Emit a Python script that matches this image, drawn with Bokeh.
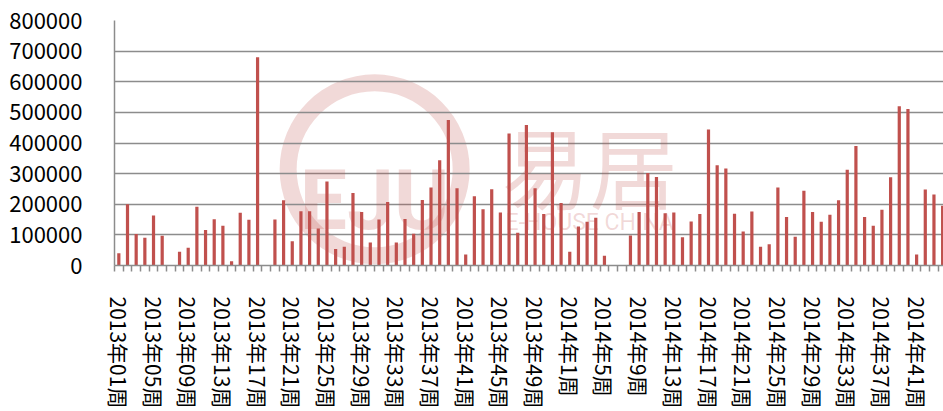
from bokeh.plotting import figure
from bokeh.models import Range1d, FixedTicker, NumeralTickFormatter, Label
from bokeh.embed import file_html
from bokeh.resources import INLINE

# ---- data (weekly values, 2013年01周 .. 2014年44周) ----
values_2013 = [40000, 200000, 103000, 91000, 163000, 97000, 0, 45000, 58000, 192000,
               116000, 151000, 130000, 14000, 172000, 149000, 680000, 0, 150000, 213000,
               79000, 177000, 177000, 121000, 274000, 54000, 61000, 237000, 175000, 75000,
               150000, 207000, 75000, 152000, 104000, 214000, 255000, 344000, 475000, 252000,
               36000, 226000, 184000, 249000, 173000, 431000, 107000, 459000, 252000, 168000,
               435000, 204000]
values_2014 = [45000, 127000, 143000, 156000, 32000, 0, 0, 98000, 175000, 302000,
               289000, 171000, 173000, 92000, 144000, 168000, 444000, 327000, 317000, 169000,
               111000, 176000, 61000, 69000, 255000, 158000, 94000, 244000, 175000, 143000,
               166000, 213000, 313000, 390000, 158000, 130000, 182000, 288000, 520000, 511000,
               36000, 248000, 232000, 195000]
tick_labels = ["2013年01周", "2013年05周", "2013年09周", "2013年13周", "2013年17周",
               "2013年21周", "2013年25周", "2013年29周", "2013年33周", "2013年37周",
               "2013年41周", "2013年45周", "2013年49周", "2014年1周", "2014年5周",
               "2014年9周", "2014年13周", "2014年17周", "2014年21周", "2014年25周",
               "2014年29周", "2014年33周", "2014年37周", "2014年41周"]
y_ticks = [0, 100000, 200000, 300000, 400000, 500000, 600000, 700000, 800000]

values = values_2013 + values_2014
idx = list(range(len(values)))
tick_pos = idx[::4][:len(tick_labels)]

FONT = "Noto Sans CJK SC"
GRID = "#8c8c8c"
BAR = "#c0504d"

p = figure(width=943, height=411, output_backend="svg", toolbar_location=None,
           x_range=Range1d(-0.5, 95.1), y_range=Range1d(0, 800000),
           min_border_left=114, min_border_top=20, min_border_right=0,
           min_border_bottom=144)
p.outline_line_color = None
p.background_fill_color = "white"
p.border_fill_color = "white"

# ---- faint watermark (behind bars) ----
wm = dict(text_color=BAR, text_alpha=0.22, level="underlay")
p.annulus(x=[29.5], y=[314000], inner_radius=78, outer_radius=95,
          inner_radius_units="screen", outer_radius_units="screen",
          fill_color=BAR, fill_alpha=0.22, line_color=None, level="underlay")
p.add_layout(Label(x=29.5, y=211000, text="EJU", text_align="center",
                   text_baseline="alphabetic", text_font="Roboto",
                   text_font_style="bold", text_font_size="84px", **wm))
p.add_layout(Label(x=54.3, y=333000, text="易居", text_align="center",
                   text_baseline="middle", text_font=FONT,
                   text_font_size="88px", **wm))
p.add_layout(Label(x=54.3, y=139000, text="E-HOUSE CHINA", text_align="center",
                   text_baseline="middle", text_font="Roboto",
                   text_font_size="23px", **wm))

# ---- bars ----
p.vbar(x=idx, top=values, width=0.37, fill_color=BAR, line_color=None)

# ---- axes ----
xa = p.xaxis[0]
xa.ticker = FixedTicker(ticks=tick_pos,
                        minor_ticks=[i - 0.5 for i in range(len(values) + 1)])
xa.major_label_overrides = {pos: lab for pos, lab in zip(tick_pos, tick_labels)}
xa.major_label_orientation = "vertical"
xa.major_label_text_font = FONT
xa.major_label_text_font_size = "21px"
xa.major_label_text_color = "black"
xa.major_label_standoff = 25
xa.major_tick_line_color = None
xa.major_tick_out = 0
xa.major_tick_in = 0
xa.minor_tick_line_color = GRID
xa.minor_tick_line_width = 1.5
xa.minor_tick_out = 6
xa.minor_tick_in = 0
xa.axis_line_color = GRID
xa.axis_line_width = 1.5

ya = p.yaxis[0]
ya.ticker = FixedTicker(ticks=y_ticks)
ya.formatter = NumeralTickFormatter(format="0")
ya.major_label_text_font = FONT
ya.major_label_text_font_size = "22px"
ya.major_label_text_color = "black"
ya.major_label_standoff = 32
ya.major_tick_line_color = None
ya.major_tick_out = 0
ya.major_tick_in = 0
ya.minor_tick_line_color = None
ya.axis_line_color = GRID
ya.axis_line_width = 1.5

p.xgrid.grid_line_color = None
p.ygrid.grid_line_color = GRID
p.ygrid.grid_line_width = 1.5

open("out.html", "w").write(file_html(p, INLINE))
